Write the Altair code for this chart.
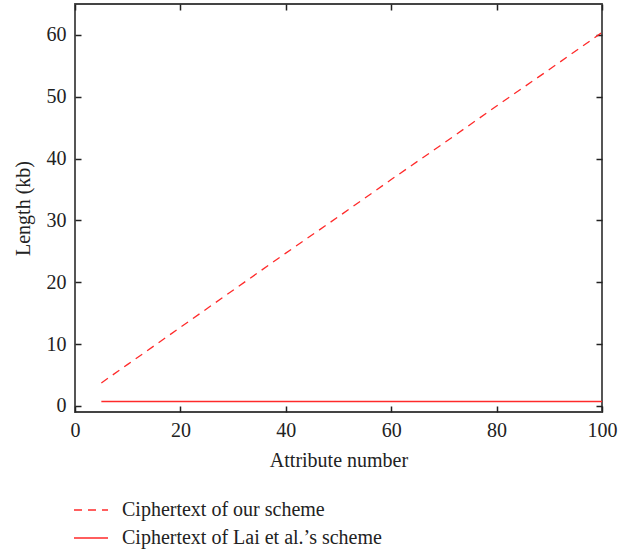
import altair as alt
import pandas as pd

attr_ours = [5, 10, 20, 30, 40, 50, 60, 70, 80, 90, 100]
len_ours = [3.7, 6.7, 12.7, 18.7, 24.7, 30.6, 36.6, 42.5, 48.5, 54.4, 60.4]
attr_lai = [5, 100]
len_lai = [0.7, 0.7]
series_names = ["Ciphertext of our scheme", "Ciphertext of Lai et al.’s scheme"]
x_ticks = [0, 20, 40, 60, 80, 100]
y_ticks = [0, 10, 20, 30, 40, 50, 60]

rows = []
for a, v in zip(attr_ours, len_ours):
    rows.append({"attr": a, "len": v, "series": series_names[0]})
for a, v in zip(attr_lai, len_lai):
    rows.append({"attr": a, "len": v, "series": series_names[1]})
df = pd.DataFrame(rows)

FONT = "Liberation Serif"
FS = 20
RED = "#ff2a2a"

xscale = alt.Scale(domain=[0, 100], nice=False)
yscale = alt.Scale(domain=[-1, 65], nice=False)

common_axis = dict(offset=-6, tickSize=6, tickWidth=1.5, tickColor="#222",
                   domain=False, grid=False, labelFlush=False,
                   labelFont=FONT, labelFontSize=FS, labelColor="#222",
                   titleFont=FONT, titleFontSize=FS, titleColor="#222",
                   titleFontWeight="normal")

main = alt.Chart(df).mark_line(strokeWidth=1.3, color=RED).encode(
    x=alt.X("attr:Q", scale=xscale,
            axis=alt.Axis(orient="bottom", values=x_ticks, title="Attribute number",
                          labelPadding=8, titlePadding=10, **common_axis)),
    y=alt.Y("len:Q", scale=yscale,
            axis=alt.Axis(orient="left", values=y_ticks, title="Length (kb)",
                          labelPadding=9, titlePadding=13, **common_axis)),
    strokeDash=alt.StrokeDash("series:N", sort=series_names,
                              scale=alt.Scale(domain=series_names, range=[[8, 6], [1, 0]]),
                              legend=alt.Legend(title=None, orient="none", legendX=-2, legendY=488,
                                                symbolType="stroke", symbolSize=1156,
                                                symbolStrokeWidth=1.3, symbolStrokeColor=RED,
                                                labelFontSize=FS, labelLimit=0,
                                                labelFont=FONT, labelColor="#222",
                                                rowPadding=-7, labelOffset=13, padding=0)),
    detail="series:N",
)

mirror = alt.Chart(df).mark_line(opacity=0).encode(
    x=alt.X("attr:Q", scale=xscale,
            axis=alt.Axis(orient="top", values=x_ticks, title=None, labels=False,
                          **common_axis)),
    y=alt.Y("len:Q", scale=yscale,
            axis=alt.Axis(orient="right", values=y_ticks, title=None, labels=False,
                          **common_axis)),
)

chart = alt.layer(main, mirror).resolve_axis(x="independent", y="independent").properties(
    width=527, height=408,
    autosize=alt.AutoSizeParams(type="none"),
    padding={"left": 75, "top": 4, "right": 32, "bottom": 140},
    background="white",
).configure_view(stroke="#444", strokeWidth=1.8)

chart.save("out.html", embed_options={"renderer": "svg", "actions": False})
